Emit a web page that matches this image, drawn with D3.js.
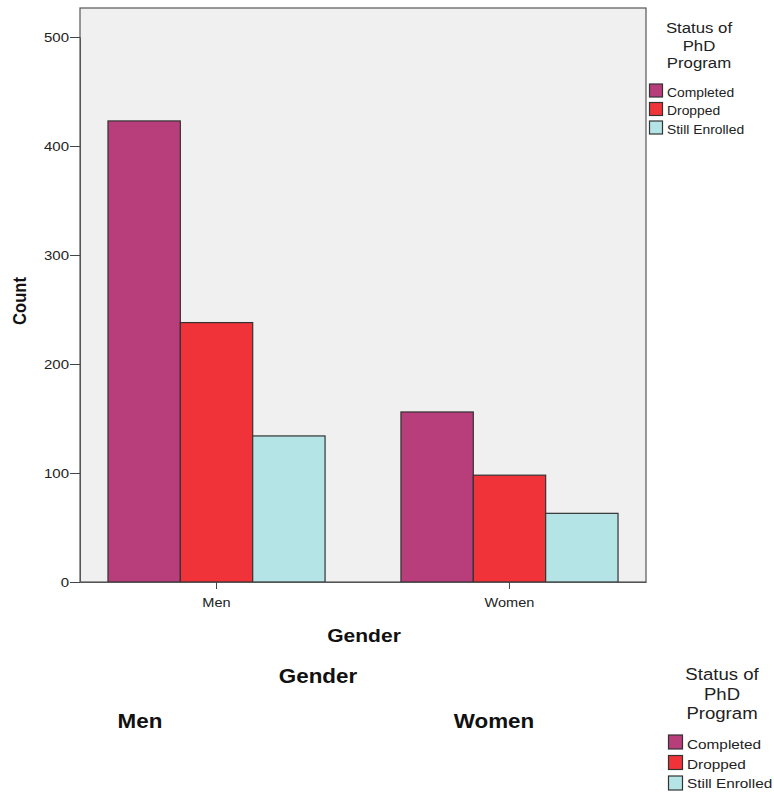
<!DOCTYPE html>
<html><head><meta charset="utf-8">
<script src="https://cdn.jsdelivr.net/npm/d3@7"></script>
<style>body{margin:0;background:#fff}svg{display:block;font-family:"Liberation Sans",Arial,sans-serif}</style>
</head><body>
<script>
const genders = ["Men", "Women"];
const statuses = ["Completed", "Dropped", "Still Enrolled"];
const completed = [423, 156];
const dropped = [238, 98];
const stillEnrolled = [134, 63];
const yTicks = [0, 100, 200, 300, 400, 500];
const colors = ["#b83d7b", "#ef3338", "#b4e4e6"];
const legendTitle = ["Status of", "PhD", "Program"];

(function () {
const series = [completed, dropped, stillEnrolled];
const W = 774, H = 796, SX = 1.12;
const svg = d3.select("body").append("svg").attr("width", W).attr("height", H);

function txt(x, y, s, size, opts = {}) {
  return svg.append("text")
    .attr("transform", `translate(${x},${y}) scale(${SX},1)` + (opts.rot ? ` rotate(${opts.rot})` : ""))
    .attr("text-anchor", opts.anchor || "start")
    .attr("font-size", size)
    .attr("font-weight", opts.bold ? "bold" : "normal")
    .attr("fill", opts.fill || "#111")
    .text(s);
}

const pL = 80, pR = 646, pT = 8, pB = 582;
svg.append("rect").attr("x", pL).attr("y", pT).attr("width", pR - pL).attr("height", pB - pT)
  .attr("fill", "#f0f0f0").attr("stroke", "#555").attr("stroke-width", 1.2);

const x = d3.scaleBand().domain(genders).range([pL, pR]).paddingInner(0.259).paddingOuter(0.0955);
const xs = d3.scaleBand().domain(statuses).range([0, x.bandwidth()]);
const y = d3.scaleLinear().domain([0, 500]).range([pB, pB - 545]);

const g = svg.append("g");
genders.forEach((gd, gi) => {
  statuses.forEach((st, si) => {
    const v = series[si][gi];
    g.append("rect").attr("x", x(gd) + xs(st)).attr("y", y(v))
      .attr("width", xs.bandwidth()).attr("height", y(0) - y(v))
      .attr("fill", colors[si]).attr("stroke", "#333").attr("stroke-width", 1.2);
  });
});

const ya = svg.append("g").attr("transform", `translate(${pL},0)`)
  .call(d3.axisLeft(y).tickValues(yTicks).tickSize(10).tickSizeOuter(0).tickPadding(1).tickFormat(d3.format("d")));
ya.select(".domain").attr("stroke", "#555");
ya.selectAll(".tick line").attr("stroke", "#444");
ya.selectAll(".tick text").remove();
yTicks.forEach(t => txt(pL - 11, y(t) + 5, String(t), 13.4, { anchor: "end", fill: "#222" }));

const xa = svg.append("g").attr("transform", `translate(0,${pB})`)
  .call(d3.axisBottom(x).tickSize(7).tickSizeOuter(0));
xa.select(".domain").attr("stroke", "#555");
xa.selectAll(".tick line").attr("stroke", "#444");
xa.selectAll(".tick text").remove();
genders.forEach(gd => txt(x(gd) + x.bandwidth() / 2, 607, gd, 13, { anchor: "middle", fill: "#222" }));

txt(26, 301, "Count", 16.6, { anchor: "middle", bold: true, rot: -90 });
txt(364, 642, "Gender", 18.8, { anchor: "middle", bold: true });

// legend 1
legendTitle.forEach((t, i) => txt(699, 33 + i * 17.5, t, 15, { anchor: "middle", fill: "#222" }));
statuses.forEach((s, i) => {
  svg.append("rect").attr("x", 649.5).attr("y", 84 + i * 18.5).attr("width", 13).attr("height", 13)
    .attr("fill", colors[i]).attr("stroke", "#333").attr("stroke-width", 1.2);
  txt(667, 97 + i * 18.3, s, 12.4, { fill: "#222" });
});

// lower section
txt(318, 683, "Gender", 20, { anchor: "middle", bold: true });
txt(140, 728, genders[0], 20, { anchor: "middle", bold: true });
txt(494, 728, genders[1], 20, { anchor: "middle", bold: true });
legendTitle.forEach((t, i) => txt(722, 680 + i * 19.5, t, 16.6, { anchor: "middle", fill: "#222" }));
statuses.forEach((s, i) => {
  svg.append("rect").attr("x", 668.5).attr("y", 735 + i * 20.5).attr("width", 14).attr("height", 14)
    .attr("fill", colors[i]).attr("stroke", "#333").attr("stroke-width", 1.2);
  txt(687, 749 + i * 19.5, s, 13.7, { fill: "#222" });
});
})();
</script>
</body></html>
